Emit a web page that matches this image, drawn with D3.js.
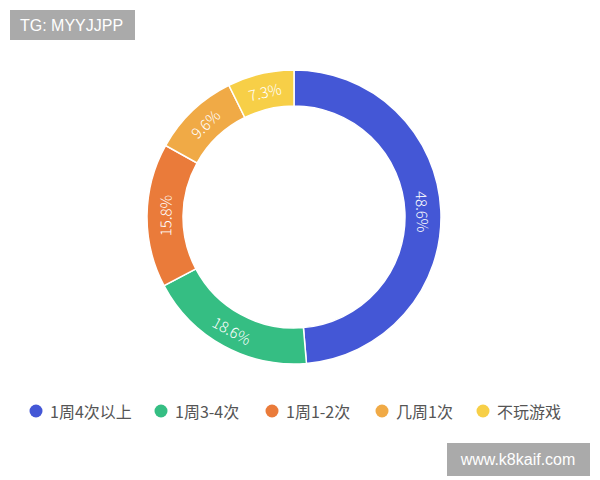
<!DOCTYPE html>
<html><head><meta charset="utf-8">
<script src="https://cdn.jsdelivr.net/npm/d3@7"></script>
<style>body{margin:0;background:#fff}svg{display:block}</style>
</head><body>
<svg id="c" width="600" height="480"></svg>
<script>
const categories = ["1周4次以上", "1周3-4次", "1周1-2次", "几周1次", "不玩游戏"];
const values = [48.6, 18.6, 15.8, 9.6, 7.3];
const colors = ["#4457D6", "#35BE83", "#EA7B3A", "#F0AA46", "#F7CF47"];
const labels = ["48.6%", "18.6%", "15.8%", "9.6%", "7.3%"];

const svg = d3.select("#c");
const cx = 294, cy = 217, rO = 147, rI = 111;
const font = "'Noto Sans CJK SC','Noto Sans',sans-serif";

const data = categories.map((c, i) => ({c, v: values[i], col: colors[i], lab: labels[i]}));
const pie = d3.pie().value(d => d.v).sort(null);
const arc = d3.arc().innerRadius(rI).outerRadius(rO);
const arcs = pie(data);

const g = svg.append("g").attr("transform", `translate(${cx},${cy})`);
g.selectAll("path").data(arcs).join("path")
  .attr("d", arc).attr("fill", d => d.data.col)
  .attr("stroke", "#fff").attr("stroke-width", 1.5);

const rm = (rI + rO) / 2;
g.selectAll("text").data(arcs).join("text")
  .attr("transform", d => {
    const a = (d.startAngle + d.endAngle) / 2;
    const x = Math.sin(a) * rm, y = -Math.cos(a) * rm;
    let deg = a * 180 / Math.PI;
    if (deg > 90 && deg < 270) deg -= 180;
    return `translate(${x},${y}) rotate(${deg})`;
  })
  .attr("text-anchor", "middle").attr("dominant-baseline", "central")
  .attr("fill", "#fff").attr("font-family", font).attr("font-size", 15).attr("font-weight", 300)
  .text(d => d.data.lab);

// legend
const legX = [36, 161, 272, 382, 483];
const lg = svg.append("g");
data.forEach((d, i) => {
  lg.append("circle").attr("cx", legX[i]).attr("cy", 411).attr("r", 6.5).attr("fill", d.col);
  lg.append("text").attr("x", legX[i] + 14).attr("y", 411).attr("dominant-baseline", "central")
    .attr("fill", "#555").attr("font-family", font).attr("font-size", 16).text(d.c);
});

// badges
svg.append("rect").attr("x", 10).attr("y", 10).attr("width", 125).attr("height", 30).attr("fill", "#aaaaaa");
svg.append("text").attr("x", 20).attr("y", 25).attr("dominant-baseline", "central")
  .attr("fill", "#fff").attr("font-family", "'Liberation Sans',Arial,sans-serif").attr("font-size", 16).text("TG: MYYJJPP");
svg.append("rect").attr("x", 447).attr("y", 443).attr("width", 143).attr("height", 33).attr("fill", "#aaaaaa");
svg.append("text").attr("x", 518).attr("y", 459.5).attr("text-anchor", "middle").attr("dominant-baseline", "central")
  .attr("fill", "#fff").attr("font-family", "'Liberation Sans',Arial,sans-serif").attr("font-size", 16).text("www.k8kaif.com");
</script>
</body></html>
